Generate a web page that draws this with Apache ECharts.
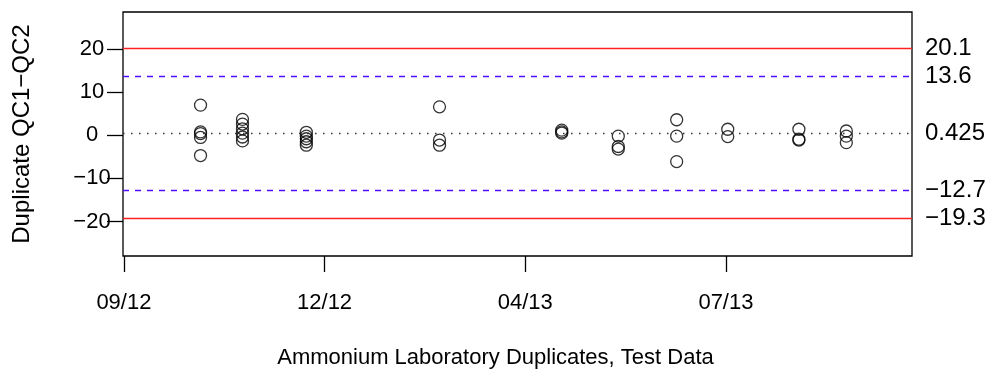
<!DOCTYPE html>
<html>
<head>
<meta charset="utf-8">
<script src="https://cdn.jsdelivr.net/npm/echarts@6/dist/echarts.min.js"></script>
<style>
	html, body {margin: 0; padding: 0; background: #fff;}
	#container {width: 991px; height: 372px;}
</style>
</head>
<body>
<div id="container"></div>
<script>
// days counted from the 09/12 tick
const tickDays = [0, 110, 220, 330];
const tickLabels = ['09/12', '12/12', '04/13', '07/13'];
const yTicks = [-20, -10, 0, 10, 20];

const batchDays = [42, 65, 100, 173, 240, 271, 303, 331, 370, 396];
const batchDiffs = [
	[7.0, 0.8, 0.4, -0.5, -4.7],
	[3.7, 2.6, 1.5, 0.5, -0.4, -1.3],
	[0.7, -0.2, -0.8, -1.5, -2.3],
	[6.6, -1.1, -2.3],
	[1.2, 0.8, 0.5],
	[-0.2, -2.6, -3.2],
	[3.6, -0.2, -6.1],
	[1.4, -0.3],
	[1.4, -0.9, -1.1],
	[1.0, -0.2, -1.7]
];

const upperLimit = 20.1, upperWarn = 13.6, meanDiff = 0.425, lowerWarn = -12.7, lowerLimit = -19.3;

const minus = s => String(s).replace('-', '\u2212');

const points = [];
batchDays.forEach((d, i) => {
	batchDiffs[i].forEach(v => points.push([d, v]));
});

function limitLine(value, color, type, width) {
	return {
		yAxis: value,
		lineStyle: {color: color, type: type, width: width},
		label: {formatter: minus(value)}
	};
}

const FONT = 'Liberation Sans, Arial, sans-serif';

const option = {
	animation: false,
	title: {
		text: 'Ammonium Laboratory Duplicates, Test Data',
		left: 'center', top: 347, padding: 0,
		textStyle: {color: '#000', fontSize: 22, fontWeight: 'normal', fontFamily: FONT}
	},
	grid: {
		left: 123, right: 79, top: 12, bottom: 116,
		outerBoundsMode: 'none', containLabel: false,
		show: true, borderColor: '#000', borderWidth: 1.3, backgroundColor: 'transparent'
	},
	xAxis: {
		type: 'value', min: -0.5, max: 432,
		axisLine: {show: false, onZero: false},
		splitLine: {show: false},
		axisTick: {show: true, length: 16, customValues: tickDays, lineStyle: {color: '#000', width: 1.3}},
		axisLabel: {
			customValues: tickDays, margin: 36, color: '#000', fontSize: 22, fontFamily: FONT,
			formatter: v => tickLabels[tickDays.indexOf(v)]
		}
	},
	yAxis: {
		type: 'value', min: -28, max: 28.6,
		name: 'Duplicate QC1\u2212QC2',
		nameLocation: 'middle', nameGap: 89,
		nameTextStyle: {color: '#000', fontSize: 24, fontFamily: FONT},
		axisLine: {show: false, onZero: false},
		splitLine: {show: false},
		axisTick: {show: true, length: 16, customValues: yTicks, lineStyle: {color: '#000', width: 1.3}},
		axisLabel: {
			customValues: yTicks, margin: 31, align: 'center', color: '#000', fontSize: 22, fontFamily: FONT,
			formatter: v => minus(v)
		}
	},
	series: [{
		type: 'scatter',
		data: points,
		symbol: 'circle',
		symbolSize: 12,
		itemStyle: {color: 'transparent', borderColor: '#000', borderWidth: 1.3},
		markLine: {
			silent: true,
			symbol: 'none',
			label: {
				position: 'end', distance: 13, color: '#000', fontSize: 24, fontFamily: FONT
			},
			data: [
				limitLine(upperLimit, '#ff2020', 'solid', 1.3),
				limitLine(upperWarn, '#5010ff', [6, 6], 1.3),
				limitLine(meanDiff, '#333', [1.5, 6.5], 1.3),
				limitLine(lowerWarn, '#5010ff', [6, 6], 1.3),
				limitLine(lowerLimit, '#ff2020', 'solid', 1.3)
			]
		}
	}]
};

echarts.init(document.getElementById('container')).setOption(option);
</script>
</body>
</html>
